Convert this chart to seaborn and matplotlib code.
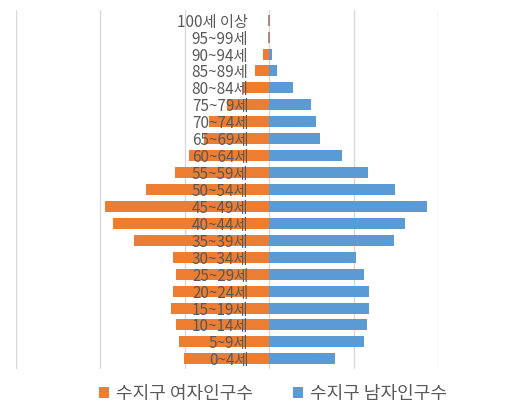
import numpy as np
import pandas as pd
import matplotlib
matplotlib.use("Agg")
import matplotlib.pyplot as plt
import seaborn as sns

# age groups, top to bottom
ages = ['100세 이상', '95~99세', '90~94세', '85~89세', '80~84세', '75~79세',
        '70~74세', '65~69세', '60~64세', '55~59세', '50~54세', '45~49세',
        '40~44세', '35~39세', '30~34세', '25~29세', '20~24세', '15~19세',
        '10~14세', '5~9세', '0~4세']

# population counts
female = [70, 90, 360, 850, 1550, 2500, 3540, 3840, 4730, 5580, 7270, 9730,
          9260, 8000, 5680, 5530, 5720, 5800, 5500, 5330, 5030]
male = [30, 30, 180, 470, 1420, 2450, 2800, 3000, 4290, 5880, 7480, 9350,
        8030, 7370, 5120, 5600, 5900, 5900, 5800, 5600, 3920]

female_label = '수지구 여자인구수'
male_label = '수지구 남자인구수'

df = pd.DataFrame({'age': ages, 'female': -np.array(female), 'male': male})

sns.set_style("white")
plt.rcParams['font.family'] = ['Noto Sans CJK KR', 'DejaVu Sans']

fig = plt.figure(figsize=(5.21, 4.08), dpi=100)
ax = fig.add_axes([16 / 521, 39 / 408, 422 / 521, 359 / 408])

sns.barplot(data=df, x='female', y='age', color='#ED7D31', width=0.65,
            orient='h', label=female_label, saturation=1, ax=ax,
            linewidth=0)
sns.barplot(data=df, x='male', y='age', color='#5B9BD5', width=0.65,
            orient='h', label=male_label, saturation=1, ax=ax,
            linewidth=0)

ax.set_xlim(-15000, 10000)
ax.set_ylim(20.6, -0.6)
for gx in np.arange(-15000, 10001, 5000):
    ax.axvline(gx, color='#D9D9D9', linewidth=1, zorder=0)

ax.set_xticks([])
ax.set_xlabel('')
ax.set_ylabel('')
for s in ax.spines.values():
    s.set_visible(False)
ax.spines['left'].set_position(('data', 0))
ax.tick_params(axis='y', length=0, pad=15, labelsize=11, labelcolor='#595959')
ax.yaxis.set_zorder(10)

if ax.legend_:
    ax.legend_.remove()
handles, labels = ax.get_legend_handles_labels()
fig.legend(handles, labels, loc='center', bbox_to_anchor=(273 / 521, 14 / 408),
           ncol=2, frameon=False, fontsize=13, labelcolor='#595959',
           handlelength=0.55, handleheight=0.55, handletextpad=0.4,
           columnspacing=2.2)

plt.savefig("out.png", dpi=100)
